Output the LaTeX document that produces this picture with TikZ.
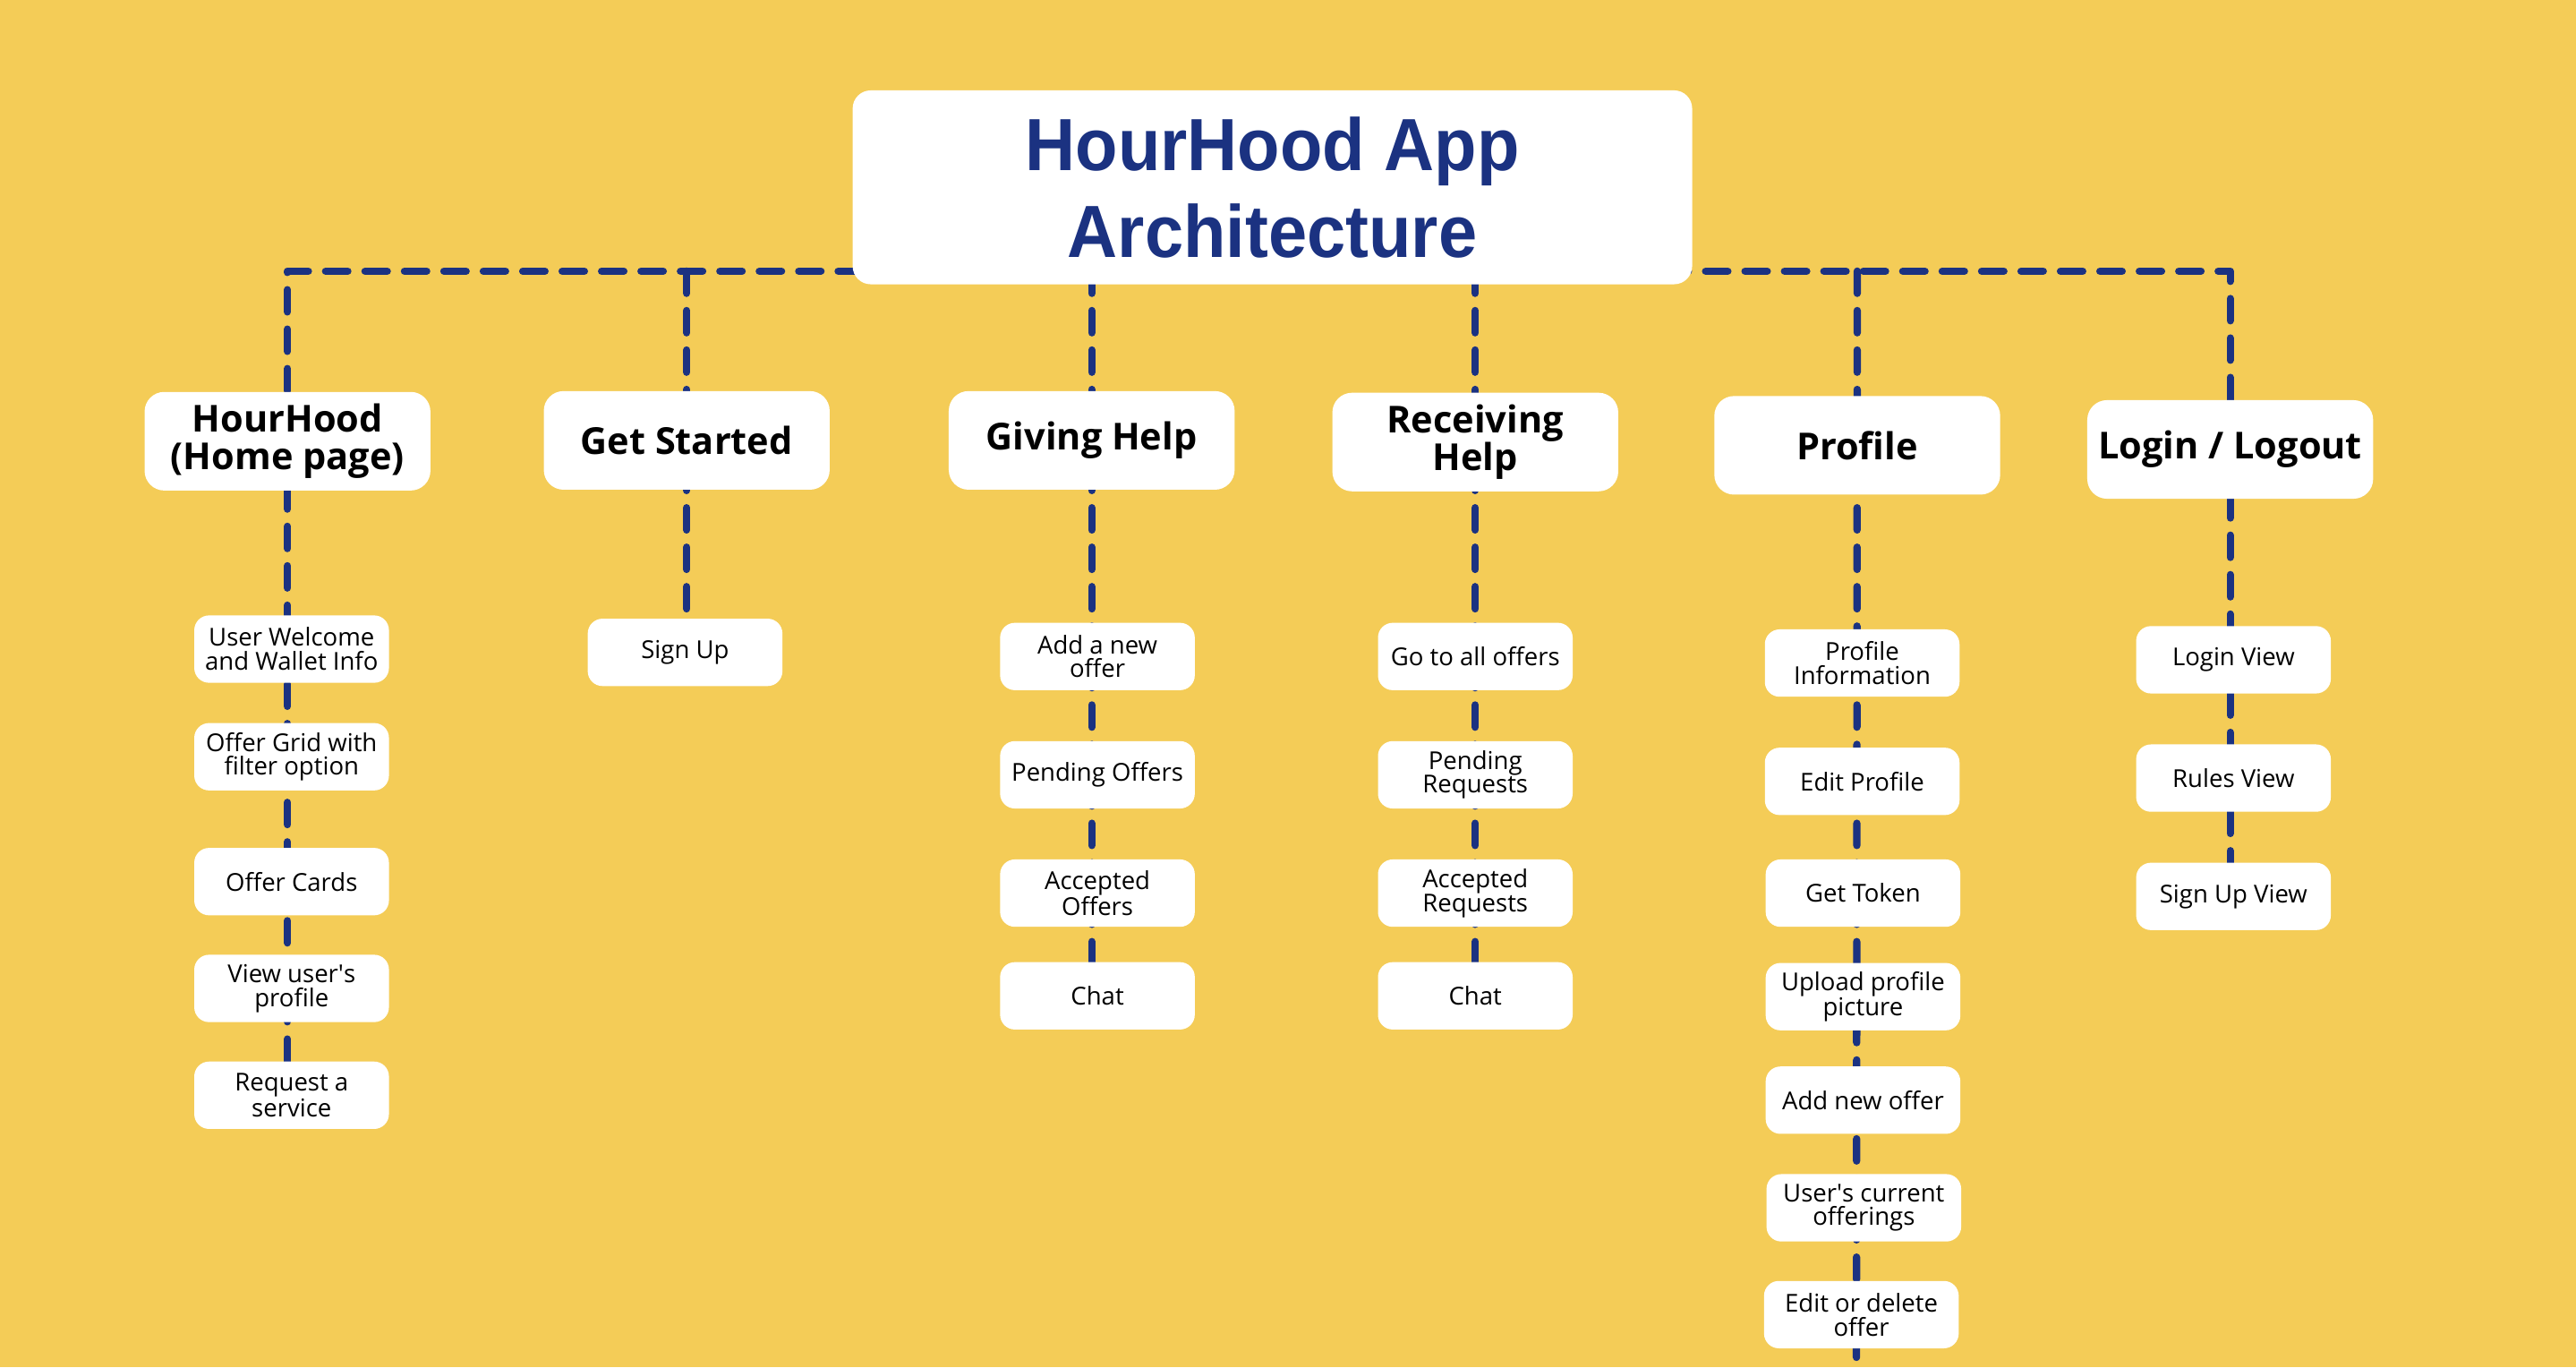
\documentclass[tikz,border=0pt]{standalone}
\usepackage{fontspec}
\setmainfont{Open Sans}
\newfontfamily\titlefont{Liberation Sans}[FakeStretch=0.94]
\usetikzlibrary{backgrounds}
\definecolor{bgyellow}{RGB}{244,204,87}
\definecolor{navy}{RGB}{27,50,129}
\tikzset{
  titlebox/.style={fill=white, rounded corners=11pt, minimum width=511pt, minimum height=118pt, inner sep=0pt,
    align=center, text=navy, font=\titlefont\bfseries\fontsize{45}{53}\selectfont},
  headbox/.style={fill=white, rounded corners=12pt, minimum width=174pt, minimum height=60pt, inner sep=0pt,
    align=center, font=\bfseries\fontsize{22.6}{22.6}\selectfont},
  itembox/.style={fill=white, rounded corners=9pt, minimum width=118.5pt, minimum height=41pt, inner sep=0pt,
    align=center, font=\fontsize{15}{14.6}\selectfont},
  conn/.style={draw=navy, line width=4.5pt, line cap=round, line join=round, dash pattern=on 13.5pt off 10.5pt}
}
\begin{document}
\begin{tikzpicture}[x=1pt, y=-1pt]
\useasboundingbox (0,0) rectangle (1568,832);
% title
\node[titlebox] (title) at (774.5,114) {HourHood App\\Architecture};
\coordinate (bus) at (0,165);
% headings
\node[headbox] (h1) at (175,268.5) {HourHood\\(Home page)};
\node[headbox] (h2) at (418,268) {Get Started};
\node[headbox] (h3) at (664.5,268) {Giving Help};
\node[headbox] (h4) at (898,269) {Receiving\\Help};
\node[headbox] (h5) at (1130.5,271) {Profile};
\node[headbox] (h6) at (1357.5,273.5) {Login / Logout};
% column 1
\node[itembox] (i11) at (177.5,395) {User Welcome\\and Wallet Info};
\node[itembox] (i12) at (177.5,460.5) {Offer Grid with\\filter option};
\node[itembox] (i13) at (177.5,536.5) {Offer Cards};
\node[itembox] (i14) at (177.5,601.5) {View user\textquotesingle s\\profile};
\node[itembox] (i15) at (177.5,666.5) {Request a\\service};
% column 2
\node[itembox] (i21) at (417,397) {Sign Up};
% column 3
\node[itembox] (i31) at (668,399.5) {Add a new\\offer};
\node[itembox] (i32) at (668,471.5) {Pending Offers};
\node[itembox] (i33) at (668,543.5) {Accepted\\Offers};
\node[itembox] (i34) at (668,606) {Chat};
% column 4
\node[itembox] (i41) at (898,399.5) {Go to all offers};
\node[itembox] (i42) at (898,471.5) {Pending\\Requests};
\node[itembox] (i43) at (898,543.5) {Accepted\\Requests};
\node[itembox] (i44) at (898,606) {Chat};
% column 5
\node[itembox] (i51) at (1133.5,403.5) {Profile\\Information};
\node[itembox] (i52) at (1133.5,475.5) {Edit Profile};
\node[itembox] (i53) at (1134,543.5) {Get Token};
\node[itembox] (i54) at (1134,606.5) {Upload profile\\picture};
\node[itembox] (i55) at (1134,669.5) {Add new offer};
\node[itembox] (i56) at (1134.5,735) {User\textquotesingle s current\\offerings};
\node[itembox] (i57) at (1133,800) {Edit or delete\\offer};
\coordinate (end5) at (1130,826);
% column 6
\node[itembox] (i61) at (1359.5,401.5) {Login View};
\node[itembox] (i62) at (1359.5,473.5) {Rules View};
\node[itembox] (i63) at (1359.5,545.5) {Sign Up View};
\begin{pgfonlayer}{background}
\fill[bgyellow] (0,0) rectangle (1568,832);
\draw[conn] (i15.north -| h1) -- (h1 |- bus) -- (h6 |- bus) -- (i63.north -| h6);
\draw[conn] (h2 |- bus) -- (i21.north -| h2);
\draw[conn] (h3 |- bus) -- (i34.north -| h3);
\draw[conn] (h4 |- bus) -- (i44.north -| h4);
\draw[conn] (h5 |- bus) -- (end5);
\end{pgfonlayer}
\end{tikzpicture}
\end{document}
